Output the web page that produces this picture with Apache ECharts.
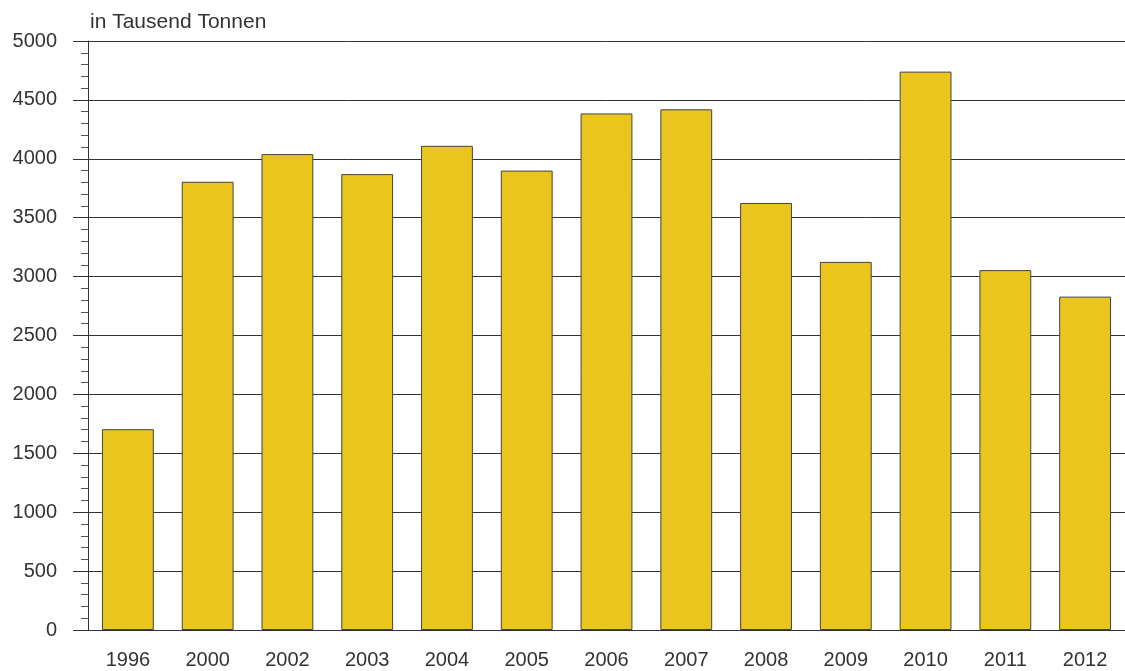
<!DOCTYPE html>
<html>
<head>
<meta charset="utf-8">
<script src="https://cdn.jsdelivr.net/npm/echarts@6/dist/echarts.min.js"></script>
<style>
html, body { margin: 0; padding: 0; background: #fff; }
#chart { width: 1125px; height: 671px; }
</style>
</head>
<body>
<div id="chart"></div>
<script>
var years = ['1996','2000','2002','2003','2004','2005','2006','2007','2008','2009','2010','2011','2012'];
var values = [1705, 3805, 4040, 3870, 4110, 3900, 4385, 4420, 3625, 3125, 4740, 3055, 2830];
var unitLabel = 'in Tausend Tonnen';

var chart = echarts.init(document.getElementById('chart'));
var font = '"Liberation Sans", Arial, sans-serif';

var option = {
    animation: false,
    title: {
        text: unitLabel,
        left: 85,
        top: 7,
        textStyle: { fontFamily: font, fontSize: 21, fontWeight: 'normal', color: '#333' }
    },
    grid: { left: 88, right: -3, top: 41, bottom: 41 },
    xAxis: {
        type: 'category',
        data: years,
        axisLine: { show: true, lineStyle: { color: '#333', width: 1 } },
        axisTick: { show: false },
        axisLabel: { margin: 20, fontFamily: font, fontSize: 20, color: '#333' }
    },
    yAxis: {
        type: 'value',
        min: 0,
        max: 5000,
        interval: 500,
        axisLine: { show: true, lineStyle: { color: '#333', width: 1 } },
        axisTick: { show: true, length: 15, lineStyle: { color: '#333' } },
        minorTick: { show: true, splitNumber: 5, length: 7, lineStyle: { color: '#555' } },
        splitLine: { show: true, lineStyle: { color: '#333', width: 1 } },
        axisLabel: {
            margin: 31, fontFamily: font, fontSize: 20, color: '#333',
            formatter: function (v) { return String(v); }
        }
    },
    series: [{
        type: 'bar',
        data: values,
        barWidth: '65%',
        itemStyle: { color: '#E9C51E', borderColor: '#444', borderWidth: 1 }
    }]
};

chart.setOption(option);
</script>
</body>
</html>
